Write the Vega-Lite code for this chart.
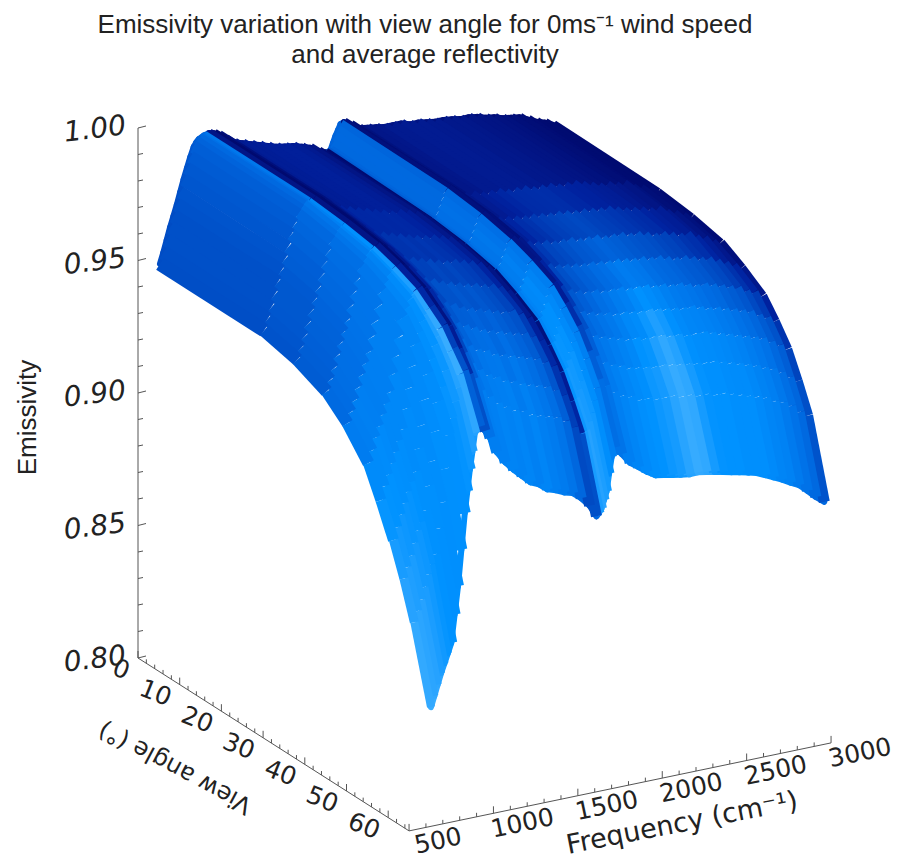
{"$schema":"https://vega.github.io/schema/vega-lite/v6.json","autosize":{"type":"none"},"padding":{"left":0,"right":0,"top":70,"bottom":0},"width":902,"height":791,"background":"white",
"title":{"text":["Emissivity variation with view angle for 0ms⁻¹ wind speed","and average reflectivity"],"font":"Liberation Sans","fontSize":26,"fontWeight":"normal","color":"#222","anchor":"middle","frame":"group","dx":-26,"offset":2,"lineHeight":30},
"config":{"view":{"stroke":null}},
"datasets":{"surface":[
{"f":630,"a":0,"e":0.947,"c":0.38},{"f":630,"a":25,"e":0.947,"c":0.4},{"f":630,"a":33,"e":0.944,"c":0.44},{"f":630,"a":40,"e":0.939,"c":0.5},{"f":630,"a":45,"e":0.932,"c":0.61},{"f":630,"a":50,"e":0.922,"c":0.72},{"f":630,"a":53,"e":0.911,"c":0.79},{"f":630,"a":56,"e":0.899,"c":0.85},{"f":630,"a":58.5,"e":0.887,"c":0.9},{"f":630,"a":61,"e":0.873,"c":0.95},{"f":630,"a":65,"e":0.845,"c":1},
{"f":650,"a":0,"e":0.951,"c":0.38},{"f":650,"a":25,"e":0.951,"c":0.41},{"f":650,"a":33,"e":0.948,"c":0.45},{"f":650,"a":40,"e":0.943,"c":0.51},{"f":650,"a":45,"e":0.936,"c":0.62},{"f":650,"a":50,"e":0.9265,"c":0.73},{"f":650,"a":53,"e":0.916,"c":0.78},{"f":650,"a":56,"e":0.9035,"c":0.83},{"f":650,"a":58.5,"e":0.891,"c":0.88},{"f":650,"a":61,"e":0.877,"c":0.92},{"f":650,"a":65,"e":0.849,"c":0.97},
{"f":670,"a":0,"e":0.9555,"c":0.38},{"f":670,"a":25,"e":0.955,"c":0.42},{"f":670,"a":33,"e":0.952,"c":0.46},{"f":670,"a":40,"e":0.947,"c":0.52},{"f":670,"a":45,"e":0.94,"c":0.63},{"f":670,"a":50,"e":0.931,"c":0.74},{"f":670,"a":53,"e":0.92,"c":0.78},{"f":670,"a":56,"e":0.908,"c":0.82},{"f":670,"a":58.5,"e":0.895,"c":0.86},{"f":670,"a":61,"e":0.881,"c":0.9},{"f":670,"a":65,"e":0.853,"c":0.95},
{"f":690,"a":0,"e":0.96,"c":0.38},{"f":690,"a":25,"e":0.9595,"c":0.42},{"f":690,"a":33,"e":0.9565,"c":0.47},{"f":690,"a":40,"e":0.9515,"c":0.53},{"f":690,"a":45,"e":0.9445,"c":0.63},{"f":690,"a":50,"e":0.935,"c":0.73},{"f":690,"a":53,"e":0.924,"c":0.77},{"f":690,"a":56,"e":0.912,"c":0.81},{"f":690,"a":58.5,"e":0.8995,"c":0.84},{"f":690,"a":61,"e":0.8855,"c":0.87},{"f":690,"a":65,"e":0.857,"c":0.9},
{"f":710,"a":0,"e":0.964,"c":0.38},{"f":710,"a":25,"e":0.964,"c":0.42},{"f":710,"a":33,"e":0.961,"c":0.47},{"f":710,"a":40,"e":0.956,"c":0.54},{"f":710,"a":45,"e":0.949,"c":0.63},{"f":710,"a":50,"e":0.939,"c":0.72},{"f":710,"a":53,"e":0.928,"c":0.76},{"f":710,"a":56,"e":0.916,"c":0.8},{"f":710,"a":58.5,"e":0.904,"c":0.83},{"f":710,"a":61,"e":0.89,"c":0.85},{"f":710,"a":65,"e":0.8605,"c":0.85},
{"f":730,"a":0,"e":0.968,"c":0.39},{"f":730,"a":25,"e":0.968,"c":0.43},{"f":730,"a":33,"e":0.965,"c":0.48},{"f":730,"a":40,"e":0.96,"c":0.55},{"f":730,"a":45,"e":0.953,"c":0.64},{"f":730,"a":50,"e":0.943,"c":0.72},{"f":730,"a":53,"e":0.932,"c":0.76},{"f":730,"a":56,"e":0.9195,"c":0.79},{"f":730,"a":58.5,"e":0.907,"c":0.81},{"f":730,"a":61,"e":0.8935,"c":0.82},{"f":730,"a":65,"e":0.864,"c":0.82},
{"f":750,"a":0,"e":0.9725,"c":0.4},{"f":750,"a":25,"e":0.972,"c":0.45},{"f":750,"a":33,"e":0.969,"c":0.5},{"f":750,"a":40,"e":0.964,"c":0.56},{"f":750,"a":45,"e":0.957,"c":0.64},{"f":750,"a":50,"e":0.947,"c":0.72},{"f":750,"a":53,"e":0.936,"c":0.75},{"f":750,"a":56,"e":0.923,"c":0.78},{"f":750,"a":58.5,"e":0.911,"c":0.79},{"f":750,"a":61,"e":0.897,"c":0.8},{"f":750,"a":65,"e":0.8676,"c":0.8},
{"f":770,"a":0,"e":0.977,"c":0.41},{"f":770,"a":25,"e":0.9765,"c":0.46},{"f":770,"a":33,"e":0.9735,"c":0.51},{"f":770,"a":40,"e":0.969,"c":0.57},{"f":770,"a":45,"e":0.9625,"c":0.65},{"f":770,"a":50,"e":0.9535,"c":0.72},{"f":770,"a":53,"e":0.9435,"c":0.75},{"f":770,"a":56,"e":0.9315,"c":0.77},{"f":770,"a":58.5,"e":0.92,"c":0.78},{"f":770,"a":61,"e":0.9065,"c":0.79},{"f":770,"a":65,"e":0.878,"c":0.79},
{"f":790,"a":0,"e":0.981,"c":0.42},{"f":790,"a":25,"e":0.981,"c":0.48},{"f":790,"a":33,"e":0.978,"c":0.53},{"f":790,"a":40,"e":0.974,"c":0.58},{"f":790,"a":45,"e":0.968,"c":0.65},{"f":790,"a":50,"e":0.96,"c":0.72},{"f":790,"a":53,"e":0.951,"c":0.74},{"f":790,"a":56,"e":0.94,"c":0.76},{"f":790,"a":58.5,"e":0.929,"c":0.77},{"f":790,"a":61,"e":0.916,"c":0.78},{"f":790,"a":65,"e":0.8885,"c":0.78},
{"f":810,"a":0,"e":0.985,"c":0.43},{"f":810,"a":25,"e":0.9845,"c":0.5},{"f":810,"a":33,"e":0.982,"c":0.55},{"f":810,"a":40,"e":0.9785,"c":0.59},{"f":810,"a":45,"e":0.9735,"c":0.65},{"f":810,"a":50,"e":0.967,"c":0.72},{"f":810,"a":53,"e":0.959,"c":0.74},{"f":810,"a":56,"e":0.9495,"c":0.76},{"f":810,"a":58.5,"e":0.94,"c":0.78},{"f":810,"a":61,"e":0.9285,"c":0.79},{"f":810,"a":65,"e":0.902,"c":0.78},
{"f":830,"a":0,"e":0.9885,"c":0.45},{"f":830,"a":25,"e":0.988,"c":0.52},{"f":830,"a":33,"e":0.986,"c":0.56},{"f":830,"a":40,"e":0.983,"c":0.6},{"f":830,"a":45,"e":0.979,"c":0.66},{"f":830,"a":50,"e":0.974,"c":0.72},{"f":830,"a":53,"e":0.967,"c":0.74},{"f":830,"a":56,"e":0.959,"c":0.76},{"f":830,"a":58.5,"e":0.951,"c":0.78},{"f":830,"a":61,"e":0.941,"c":0.8},{"f":830,"a":65,"e":0.9155,"c":0.78},
{"f":845,"a":0,"e":0.99,"c":0.47},{"f":845,"a":25,"e":0.9895,"c":0.56},{"f":845,"a":33,"e":0.9875,"c":0.6},{"f":845,"a":40,"e":0.985,"c":0.64},{"f":845,"a":45,"e":0.9815,"c":0.7},{"f":845,"a":50,"e":0.977,"c":0.75},{"f":845,"a":53,"e":0.971,"c":0.77},{"f":845,"a":56,"e":0.964,"c":0.79},{"f":845,"a":58.5,"e":0.956,"c":0.81},{"f":845,"a":61,"e":0.947,"c":0.82},{"f":845,"a":65,"e":0.9235,"c":0.8},
{"f":860,"a":0,"e":0.991,"c":0.5},{"f":860,"a":25,"e":0.991,"c":0.6},{"f":860,"a":33,"e":0.989,"c":0.64},{"f":860,"a":40,"e":0.987,"c":0.68},{"f":860,"a":45,"e":0.984,"c":0.73},{"f":860,"a":50,"e":0.98,"c":0.78},{"f":860,"a":53,"e":0.975,"c":0.8},{"f":860,"a":56,"e":0.969,"c":0.82},{"f":860,"a":58.5,"e":0.962,"c":0.84},{"f":860,"a":61,"e":0.953,"c":0.85},{"f":860,"a":65,"e":0.9315,"c":0.82},
{"f":875,"a":0,"e":0.9915,"c":0.52},{"f":875,"a":25,"e":0.9915,"c":0.66},{"f":875,"a":33,"e":0.99,"c":0.7},{"f":875,"a":40,"e":0.988,"c":0.75},{"f":875,"a":45,"e":0.985,"c":0.8},{"f":875,"a":50,"e":0.9815,"c":0.85},{"f":875,"a":53,"e":0.977,"c":0.88},{"f":875,"a":56,"e":0.972,"c":0.91},{"f":875,"a":58.5,"e":0.9655,"c":0.92},{"f":875,"a":61,"e":0.958,"c":0.92},{"f":875,"a":65,"e":0.938,"c":0.87},
{"f":890,"a":0,"e":0.992,"c":0.55},{"f":890,"a":25,"e":0.992,"c":0.72},{"f":890,"a":33,"e":0.9908,"c":0.76},{"f":890,"a":40,"e":0.989,"c":0.82},{"f":890,"a":45,"e":0.9865,"c":0.87},{"f":890,"a":50,"e":0.983,"c":0.92},{"f":890,"a":53,"e":0.979,"c":0.96},{"f":890,"a":56,"e":0.975,"c":1},{"f":890,"a":58.5,"e":0.969,"c":1},{"f":890,"a":61,"e":0.963,"c":1},{"f":890,"a":65,"e":0.945,"c":0.92},
{"f":920,"a":0,"e":0.9925,"c":0.1},{"f":920,"a":25,"e":0.9925,"c":0.08},{"f":920,"a":33,"e":0.9915,"c":0.09},{"f":920,"a":40,"e":0.99,"c":0.1},{"f":920,"a":45,"e":0.9875,"c":0.15},{"f":920,"a":50,"e":0.984,"c":0.2},{"f":920,"a":53,"e":0.98,"c":0.25},{"f":920,"a":56,"e":0.976,"c":0.3},{"f":920,"a":58.5,"e":0.97,"c":0.37},{"f":920,"a":61,"e":0.964,"c":0.45},{"f":920,"a":65,"e":0.947,"c":0.55},
{"f":950,"a":0,"e":0.992,"c":0},{"f":950,"a":25,"e":0.992,"c":0},{"f":950,"a":33,"e":0.991,"c":0},{"f":950,"a":40,"e":0.989,"c":0},{"f":950,"a":45,"e":0.9865,"c":0.02},{"f":950,"a":50,"e":0.983,"c":0.05},{"f":950,"a":53,"e":0.979,"c":0.07},{"f":950,"a":56,"e":0.975,"c":0.1},{"f":950,"a":58.5,"e":0.969,"c":0.2},{"f":950,"a":61,"e":0.962,"c":0.3},{"f":950,"a":65,"e":0.945,"c":0.5},
{"f":980,"a":0,"e":0.991,"c":0.05},{"f":980,"a":25,"e":0.991,"c":0.05},{"f":980,"a":33,"e":0.9897,"c":0.06},{"f":980,"a":40,"e":0.988,"c":0.08},{"f":980,"a":45,"e":0.9855,"c":0.14},{"f":980,"a":50,"e":0.982,"c":0.2},{"f":980,"a":53,"e":0.978,"c":0.25},{"f":980,"a":56,"e":0.973,"c":0.3},{"f":980,"a":58.5,"e":0.967,"c":0.42},{"f":980,"a":61,"e":0.96,"c":0.55},{"f":980,"a":65,"e":0.942,"c":0.65},
{"f":1020,"a":0,"e":0.989,"c":0.08},{"f":1020,"a":25,"e":0.989,"c":0.12},{"f":1020,"a":33,"e":0.9878,"c":0.14},{"f":1020,"a":40,"e":0.986,"c":0.18},{"f":1020,"a":45,"e":0.983,"c":0.25},{"f":1020,"a":50,"e":0.979,"c":0.32},{"f":1020,"a":53,"e":0.9745,"c":0.41},{"f":1020,"a":56,"e":0.969,"c":0.5},{"f":1020,"a":58.5,"e":0.9625,"c":0.58},{"f":1020,"a":61,"e":0.955,"c":0.65},{"f":1020,"a":65,"e":0.936,"c":0.7},
{"f":1070,"a":0,"e":0.987,"c":0.1},{"f":1070,"a":25,"e":0.987,"c":0.18},{"f":1070,"a":33,"e":0.9855,"c":0.21},{"f":1070,"a":40,"e":0.983,"c":0.25},{"f":1070,"a":45,"e":0.98,"c":0.32},{"f":1070,"a":50,"e":0.976,"c":0.4},{"f":1070,"a":53,"e":0.9715,"c":0.47},{"f":1070,"a":56,"e":0.966,"c":0.55},{"f":1070,"a":58.5,"e":0.9595,"c":0.62},{"f":1070,"a":61,"e":0.952,"c":0.68},{"f":1070,"a":65,"e":0.9315,"c":0.7},
{"f":1120,"a":0,"e":0.986,"c":0.12},{"f":1120,"a":25,"e":0.986,"c":0.2},{"f":1120,"a":33,"e":0.9845,"c":0.24},{"f":1120,"a":40,"e":0.982,"c":0.3},{"f":1120,"a":45,"e":0.979,"c":0.37},{"f":1120,"a":50,"e":0.975,"c":0.45},{"f":1120,"a":53,"e":0.97,"c":0.52},{"f":1120,"a":56,"e":0.964,"c":0.6},{"f":1120,"a":58.5,"e":0.957,"c":0.65},{"f":1120,"a":61,"e":0.949,"c":0.7},{"f":1120,"a":65,"e":0.928,"c":0.72},
{"f":1170,"a":0,"e":0.985,"c":0.12},{"f":1170,"a":25,"e":0.985,"c":0.2},{"f":1170,"a":33,"e":0.9835,"c":0.24},{"f":1170,"a":40,"e":0.981,"c":0.3},{"f":1170,"a":45,"e":0.9775,"c":0.37},{"f":1170,"a":50,"e":0.973,"c":0.45},{"f":1170,"a":53,"e":0.9685,"c":0.53},{"f":1170,"a":56,"e":0.963,"c":0.62},{"f":1170,"a":58.5,"e":0.9555,"c":0.66},{"f":1170,"a":61,"e":0.947,"c":0.7},{"f":1170,"a":65,"e":0.925,"c":0.7},
{"f":1220,"a":0,"e":0.984,"c":0.14},{"f":1220,"a":25,"e":0.984,"c":0.2},{"f":1220,"a":33,"e":0.9825,"c":0.25},{"f":1220,"a":40,"e":0.98,"c":0.32},{"f":1220,"a":45,"e":0.9765,"c":0.4},{"f":1220,"a":50,"e":0.972,"c":0.48},{"f":1220,"a":53,"e":0.967,"c":0.55},{"f":1220,"a":56,"e":0.961,"c":0.62},{"f":1220,"a":58.5,"e":0.9535,"c":0.67},{"f":1220,"a":61,"e":0.945,"c":0.72},{"f":1220,"a":65,"e":0.922,"c":0.72},
{"f":1270,"a":0,"e":0.983,"c":0.14},{"f":1270,"a":25,"e":0.983,"c":0.2},{"f":1270,"a":33,"e":0.9815,"c":0.24},{"f":1270,"a":40,"e":0.979,"c":0.3},{"f":1270,"a":45,"e":0.9755,"c":0.38},{"f":1270,"a":50,"e":0.971,"c":0.46},{"f":1270,"a":53,"e":0.966,"c":0.52},{"f":1270,"a":56,"e":0.96,"c":0.58},{"f":1270,"a":58.5,"e":0.9525,"c":0.63},{"f":1270,"a":61,"e":0.944,"c":0.68},{"f":1270,"a":65,"e":0.9205,"c":0.7},
{"f":1320,"a":0,"e":0.982,"c":0.15},{"f":1320,"a":25,"e":0.982,"c":0.2},{"f":1320,"a":33,"e":0.9805,"c":0.25},{"f":1320,"a":40,"e":0.978,"c":0.32},{"f":1320,"a":45,"e":0.9745,"c":0.4},{"f":1320,"a":50,"e":0.97,"c":0.48},{"f":1320,"a":53,"e":0.965,"c":0.55},{"f":1320,"a":56,"e":0.959,"c":0.62},{"f":1320,"a":58.5,"e":0.951,"c":0.67},{"f":1320,"a":61,"e":0.942,"c":0.72},{"f":1320,"a":65,"e":0.918,"c":0.72},
{"f":1370,"a":0,"e":0.9815,"c":0.15},{"f":1370,"a":25,"e":0.981,"c":0.2},{"f":1370,"a":33,"e":0.9798,"c":0.24},{"f":1370,"a":40,"e":0.978,"c":0.3},{"f":1370,"a":45,"e":0.974,"c":0.37},{"f":1370,"a":50,"e":0.969,"c":0.45},{"f":1370,"a":53,"e":0.964,"c":0.51},{"f":1370,"a":56,"e":0.958,"c":0.58},{"f":1370,"a":58.5,"e":0.95,"c":0.63},{"f":1370,"a":61,"e":0.941,"c":0.68},{"f":1370,"a":65,"e":0.917,"c":0.68},
{"f":1420,"a":0,"e":0.981,"c":0.14},{"f":1420,"a":25,"e":0.981,"c":0.18},{"f":1420,"a":33,"e":0.9795,"c":0.22},{"f":1420,"a":40,"e":0.977,"c":0.28},{"f":1420,"a":45,"e":0.973,"c":0.35},{"f":1420,"a":50,"e":0.968,"c":0.42},{"f":1420,"a":53,"e":0.963,"c":0.48},{"f":1420,"a":56,"e":0.957,"c":0.55},{"f":1420,"a":58.5,"e":0.949,"c":0.6},{"f":1420,"a":61,"e":0.94,"c":0.65},{"f":1420,"a":65,"e":0.9155,"c":0.66},
{"f":1470,"a":0,"e":0.98,"c":0.12},{"f":1470,"a":25,"e":0.98,"c":0.15},{"f":1470,"a":33,"e":0.9785,"c":0.19},{"f":1470,"a":40,"e":0.976,"c":0.25},{"f":1470,"a":45,"e":0.9725,"c":0.31},{"f":1470,"a":50,"e":0.968,"c":0.38},{"f":1470,"a":53,"e":0.9625,"c":0.44},{"f":1470,"a":56,"e":0.956,"c":0.5},{"f":1470,"a":58.5,"e":0.948,"c":0.55},{"f":1470,"a":61,"e":0.939,"c":0.6},{"f":1470,"a":65,"e":0.9146,"c":0.62},
{"f":1520,"a":0,"e":0.979,"c":0.08},{"f":1520,"a":25,"e":0.979,"c":0.1},{"f":1520,"a":33,"e":0.9775,"c":0.13},{"f":1520,"a":40,"e":0.975,"c":0.18},{"f":1520,"a":45,"e":0.971,"c":0.23},{"f":1520,"a":50,"e":0.966,"c":0.28},{"f":1520,"a":53,"e":0.9605,"c":0.34},{"f":1520,"a":56,"e":0.954,"c":0.4},{"f":1520,"a":58.5,"e":0.946,"c":0.46},{"f":1520,"a":61,"e":0.937,"c":0.52},{"f":1520,"a":65,"e":0.912,"c":0.55},
{"f":1570,"a":0,"e":0.977,"c":0.03},{"f":1570,"a":25,"e":0.977,"c":0.04},{"f":1570,"a":33,"e":0.9755,"c":0.06},{"f":1570,"a":40,"e":0.973,"c":0.08},{"f":1570,"a":45,"e":0.969,"c":0.11},{"f":1570,"a":50,"e":0.964,"c":0.15},{"f":1570,"a":53,"e":0.9585,"c":0.2},{"f":1570,"a":56,"e":0.952,"c":0.25},{"f":1570,"a":58.5,"e":0.9435,"c":0.3},{"f":1570,"a":61,"e":0.934,"c":0.35},{"f":1570,"a":65,"e":0.9085,"c":0.4},
{"f":1610,"a":0,"e":0.976,"c":0},{"f":1610,"a":25,"e":0.975,"c":0},{"f":1610,"a":33,"e":0.9735,"c":0.01},{"f":1610,"a":40,"e":0.971,"c":0.02},{"f":1610,"a":45,"e":0.967,"c":0.03},{"f":1610,"a":50,"e":0.962,"c":0.05},{"f":1610,"a":53,"e":0.956,"c":0.08},{"f":1610,"a":56,"e":0.949,"c":0.12},{"f":1610,"a":58.5,"e":0.9405,"c":0.18},{"f":1610,"a":61,"e":0.931,"c":0.25},{"f":1610,"a":65,"e":0.904,"c":0.55},
{"f":1625,"a":0,"e":0.976,"c":0.45},{"f":1625,"a":25,"e":0.975,"c":0.5},{"f":1625,"a":33,"e":0.9735,"c":0.53},{"f":1625,"a":40,"e":0.971,"c":0.58},{"f":1625,"a":45,"e":0.9675,"c":0.64},{"f":1625,"a":50,"e":0.9625,"c":0.7},{"f":1625,"a":53,"e":0.9565,"c":0.75},{"f":1625,"a":56,"e":0.9495,"c":0.8},{"f":1625,"a":58.5,"e":0.941,"c":0.83},{"f":1625,"a":61,"e":0.9315,"c":0.85},{"f":1625,"a":65,"e":0.905,"c":0.9},
{"f":1640,"a":0,"e":0.9765,"c":0.5},{"f":1640,"a":25,"e":0.975,"c":0.55},{"f":1640,"a":33,"e":0.9735,"c":0.58},{"f":1640,"a":40,"e":0.971,"c":0.62},{"f":1640,"a":45,"e":0.9675,"c":0.68},{"f":1640,"a":50,"e":0.963,"c":0.75},{"f":1640,"a":53,"e":0.957,"c":0.8},{"f":1640,"a":56,"e":0.95,"c":0.85},{"f":1640,"a":58.5,"e":0.9415,"c":0.88},{"f":1640,"a":61,"e":0.932,"c":0.9},{"f":1640,"a":65,"e":0.9065,"c":0.95},
{"f":1655,"a":0,"e":0.979,"c":0.52},{"f":1655,"a":25,"e":0.9775,"c":0.57},{"f":1655,"a":33,"e":0.976,"c":0.6},{"f":1655,"a":40,"e":0.9735,"c":0.64},{"f":1655,"a":45,"e":0.97,"c":0.7},{"f":1655,"a":50,"e":0.9655,"c":0.77},{"f":1655,"a":53,"e":0.9595,"c":0.8},{"f":1655,"a":56,"e":0.953,"c":0.84},{"f":1655,"a":58.5,"e":0.9445,"c":0.86},{"f":1655,"a":61,"e":0.935,"c":0.88},{"f":1655,"a":65,"e":0.9095,"c":0.9},
{"f":1670,"a":0,"e":0.9815,"c":0.52},{"f":1670,"a":25,"e":0.98,"c":0.58},{"f":1670,"a":33,"e":0.9785,"c":0.61},{"f":1670,"a":40,"e":0.976,"c":0.66},{"f":1670,"a":45,"e":0.9725,"c":0.72},{"f":1670,"a":50,"e":0.968,"c":0.78},{"f":1670,"a":53,"e":0.9625,"c":0.8},{"f":1670,"a":56,"e":0.956,"c":0.82},{"f":1670,"a":58.5,"e":0.9475,"c":0.84},{"f":1670,"a":61,"e":0.938,"c":0.85},{"f":1670,"a":65,"e":0.9125,"c":0.85},
{"f":1685,"a":0,"e":0.9835,"c":0.52},{"f":1685,"a":25,"e":0.9825,"c":0.57},{"f":1685,"a":33,"e":0.981,"c":0.6},{"f":1685,"a":40,"e":0.9785,"c":0.63},{"f":1685,"a":45,"e":0.975,"c":0.68},{"f":1685,"a":50,"e":0.971,"c":0.74},{"f":1685,"a":53,"e":0.9655,"c":0.75},{"f":1685,"a":56,"e":0.9595,"c":0.75},{"f":1685,"a":58.5,"e":0.9515,"c":0.77},{"f":1685,"a":61,"e":0.9425,"c":0.78},{"f":1685,"a":65,"e":0.919,"c":0.77},
{"f":1700,"a":0,"e":0.9855,"c":0.5},{"f":1700,"a":25,"e":0.985,"c":0.55},{"f":1700,"a":33,"e":0.9835,"c":0.57},{"f":1700,"a":40,"e":0.981,"c":0.6},{"f":1700,"a":45,"e":0.978,"c":0.65},{"f":1700,"a":50,"e":0.974,"c":0.7},{"f":1700,"a":53,"e":0.969,"c":0.69},{"f":1700,"a":56,"e":0.963,"c":0.68},{"f":1700,"a":58.5,"e":0.9555,"c":0.69},{"f":1700,"a":61,"e":0.947,"c":0.7},{"f":1700,"a":65,"e":0.925,"c":0.68},
{"f":1720,"a":0,"e":0.986,"c":0.05},{"f":1720,"a":25,"e":0.986,"c":0.05},{"f":1720,"a":33,"e":0.9845,"c":0.06},{"f":1720,"a":40,"e":0.982,"c":0.08},{"f":1720,"a":45,"e":0.979,"c":0.1},{"f":1720,"a":50,"e":0.975,"c":0.12},{"f":1720,"a":53,"e":0.9705,"c":0.2},{"f":1720,"a":56,"e":0.965,"c":0.3},{"f":1720,"a":58.5,"e":0.958,"c":0.43},{"f":1720,"a":61,"e":0.95,"c":0.55},{"f":1720,"a":65,"e":0.9285,"c":0.6},
{"f":1760,"a":0,"e":0.9845,"c":0.02},{"f":1760,"a":25,"e":0.984,"c":0.03},{"f":1760,"a":33,"e":0.983,"c":0.04},{"f":1760,"a":40,"e":0.981,"c":0.06},{"f":1760,"a":45,"e":0.9775,"c":0.15},{"f":1760,"a":50,"e":0.973,"c":0.25},{"f":1760,"a":53,"e":0.9685,"c":0.35},{"f":1760,"a":56,"e":0.963,"c":0.45},{"f":1760,"a":58.5,"e":0.9555,"c":0.53},{"f":1760,"a":61,"e":0.947,"c":0.6},{"f":1760,"a":65,"e":0.9255,"c":0.62},
{"f":1810,"a":0,"e":0.9825,"c":0.05},{"f":1810,"a":25,"e":0.982,"c":0.08},{"f":1810,"a":33,"e":0.981,"c":0.13},{"f":1810,"a":40,"e":0.979,"c":0.2},{"f":1810,"a":45,"e":0.9755,"c":0.3},{"f":1810,"a":50,"e":0.971,"c":0.4},{"f":1810,"a":53,"e":0.966,"c":0.49},{"f":1810,"a":56,"e":0.96,"c":0.58},{"f":1810,"a":58.5,"e":0.9525,"c":0.63},{"f":1810,"a":61,"e":0.944,"c":0.68},{"f":1810,"a":65,"e":0.9215,"c":0.68},
{"f":1860,"a":0,"e":0.982,"c":0.08},{"f":1860,"a":25,"e":0.982,"c":0.12},{"f":1860,"a":33,"e":0.9805,"c":0.17},{"f":1860,"a":40,"e":0.978,"c":0.25},{"f":1860,"a":45,"e":0.9745,"c":0.35},{"f":1860,"a":50,"e":0.97,"c":0.45},{"f":1860,"a":53,"e":0.965,"c":0.53},{"f":1860,"a":56,"e":0.959,"c":0.62},{"f":1860,"a":58.5,"e":0.951,"c":0.67},{"f":1860,"a":61,"e":0.942,"c":0.72},{"f":1860,"a":65,"e":0.9192,"c":0.72},
{"f":1910,"a":0,"e":0.9816,"c":0.08},{"f":1910,"a":25,"e":0.981,"c":0.14},{"f":1910,"a":33,"e":0.98,"c":0.2},{"f":1910,"a":40,"e":0.978,"c":0.3},{"f":1910,"a":45,"e":0.974,"c":0.4},{"f":1910,"a":50,"e":0.969,"c":0.5},{"f":1910,"a":53,"e":0.964,"c":0.57},{"f":1910,"a":56,"e":0.958,"c":0.65},{"f":1910,"a":58.5,"e":0.95,"c":0.7},{"f":1910,"a":61,"e":0.941,"c":0.75},{"f":1910,"a":65,"e":0.9168,"c":0.75},
{"f":1960,"a":0,"e":0.981,"c":0.1},{"f":1960,"a":25,"e":0.981,"c":0.16},{"f":1960,"a":33,"e":0.9795,"c":0.22},{"f":1960,"a":40,"e":0.977,"c":0.32},{"f":1960,"a":45,"e":0.9735,"c":0.43},{"f":1960,"a":50,"e":0.969,"c":0.55},{"f":1960,"a":53,"e":0.9635,"c":0.61},{"f":1960,"a":56,"e":0.957,"c":0.68},{"f":1960,"a":58.5,"e":0.9485,"c":0.73},{"f":1960,"a":61,"e":0.939,"c":0.78},{"f":1960,"a":65,"e":0.9148,"c":0.78},
{"f":2010,"a":0,"e":0.981,"c":0.08},{"f":2010,"a":25,"e":0.981,"c":0.18},{"f":2010,"a":33,"e":0.9795,"c":0.25},{"f":2010,"a":40,"e":0.977,"c":0.35},{"f":2010,"a":45,"e":0.973,"c":0.46},{"f":2010,"a":50,"e":0.968,"c":0.58},{"f":2010,"a":53,"e":0.9625,"c":0.65},{"f":2010,"a":56,"e":0.956,"c":0.72},{"f":2010,"a":58.5,"e":0.948,"c":0.76},{"f":2010,"a":61,"e":0.939,"c":0.8},{"f":2010,"a":65,"e":0.9142,"c":0.8},
{"f":2060,"a":0,"e":0.981,"c":0.08},{"f":2060,"a":25,"e":0.98,"c":0.2},{"f":2060,"a":33,"e":0.979,"c":0.27},{"f":2060,"a":40,"e":0.977,"c":0.38},{"f":2060,"a":45,"e":0.973,"c":0.5},{"f":2060,"a":50,"e":0.968,"c":0.62},{"f":2060,"a":53,"e":0.9625,"c":0.7},{"f":2060,"a":56,"e":0.956,"c":0.78},{"f":2060,"a":58.5,"e":0.9475,"c":0.82},{"f":2060,"a":61,"e":0.938,"c":0.85},{"f":2060,"a":65,"e":0.9136,"c":0.82},
{"f":2110,"a":0,"e":0.98,"c":0.08},{"f":2110,"a":25,"e":0.98,"c":0.2},{"f":2110,"a":33,"e":0.9785,"c":0.28},{"f":2110,"a":40,"e":0.976,"c":0.4},{"f":2110,"a":45,"e":0.9725,"c":0.52},{"f":2110,"a":50,"e":0.968,"c":0.65},{"f":2110,"a":53,"e":0.962,"c":0.73},{"f":2110,"a":56,"e":0.955,"c":0.8},{"f":2110,"a":58.5,"e":0.947,"c":0.84},{"f":2110,"a":61,"e":0.938,"c":0.88},{"f":2110,"a":65,"e":0.913,"c":0.85},
{"f":2160,"a":0,"e":0.98,"c":0.08},{"f":2160,"a":25,"e":0.98,"c":0.2},{"f":2160,"a":33,"e":0.9785,"c":0.29},{"f":2160,"a":40,"e":0.976,"c":0.42},{"f":2160,"a":45,"e":0.972,"c":0.56},{"f":2160,"a":50,"e":0.967,"c":0.7},{"f":2160,"a":53,"e":0.9615,"c":0.79},{"f":2160,"a":56,"e":0.955,"c":0.88},{"f":2160,"a":58.5,"e":0.947,"c":0.92},{"f":2160,"a":61,"e":0.938,"c":0.95},{"f":2160,"a":65,"e":0.9125,"c":0.92},
{"f":2210,"a":0,"e":0.9795,"c":0.06},{"f":2210,"a":25,"e":0.979,"c":0.2},{"f":2210,"a":33,"e":0.978,"c":0.3},{"f":2210,"a":40,"e":0.976,"c":0.44},{"f":2210,"a":45,"e":0.972,"c":0.59},{"f":2210,"a":50,"e":0.967,"c":0.74},{"f":2210,"a":53,"e":0.9615,"c":0.85},{"f":2210,"a":56,"e":0.955,"c":0.95},{"f":2210,"a":58.5,"e":0.9465,"c":0.98},{"f":2210,"a":61,"e":0.937,"c":1},{"f":2210,"a":65,"e":0.9126,"c":0.98},
{"f":2260,"a":0,"e":0.979,"c":0.06},{"f":2260,"a":25,"e":0.979,"c":0.2},{"f":2260,"a":33,"e":0.9775,"c":0.29},{"f":2260,"a":40,"e":0.975,"c":0.42},{"f":2260,"a":45,"e":0.9715,"c":0.57},{"f":2260,"a":50,"e":0.967,"c":0.72},{"f":2260,"a":53,"e":0.961,"c":0.81},{"f":2260,"a":56,"e":0.954,"c":0.9},{"f":2260,"a":58.5,"e":0.946,"c":0.94},{"f":2260,"a":61,"e":0.937,"c":0.98},{"f":2260,"a":65,"e":0.9121,"c":0.95},
{"f":2310,"a":0,"e":0.979,"c":0.05},{"f":2310,"a":25,"e":0.979,"c":0.18},{"f":2310,"a":33,"e":0.9775,"c":0.27},{"f":2310,"a":40,"e":0.975,"c":0.4},{"f":2310,"a":45,"e":0.971,"c":0.55},{"f":2310,"a":50,"e":0.966,"c":0.7},{"f":2310,"a":53,"e":0.9605,"c":0.76},{"f":2310,"a":56,"e":0.954,"c":0.82},{"f":2310,"a":58.5,"e":0.9455,"c":0.85},{"f":2310,"a":61,"e":0.936,"c":0.88},{"f":2310,"a":65,"e":0.9114,"c":0.85},
{"f":2360,"a":0,"e":0.9786,"c":0.05},{"f":2360,"a":25,"e":0.978,"c":0.18},{"f":2360,"a":33,"e":0.977,"c":0.26},{"f":2360,"a":40,"e":0.975,"c":0.38},{"f":2360,"a":45,"e":0.971,"c":0.51},{"f":2360,"a":50,"e":0.966,"c":0.65},{"f":2360,"a":53,"e":0.96,"c":0.72},{"f":2360,"a":56,"e":0.953,"c":0.78},{"f":2360,"a":58.5,"e":0.945,"c":0.8},{"f":2360,"a":61,"e":0.936,"c":0.82},{"f":2360,"a":65,"e":0.9107,"c":0.8},
{"f":2410,"a":0,"e":0.978,"c":0.05},{"f":2410,"a":25,"e":0.978,"c":0.16},{"f":2410,"a":33,"e":0.9765,"c":0.24},{"f":2410,"a":40,"e":0.974,"c":0.36},{"f":2410,"a":45,"e":0.97,"c":0.49},{"f":2410,"a":50,"e":0.965,"c":0.62},{"f":2410,"a":53,"e":0.9595,"c":0.69},{"f":2410,"a":56,"e":0.953,"c":0.76},{"f":2410,"a":58.5,"e":0.9445,"c":0.78},{"f":2410,"a":61,"e":0.935,"c":0.8},{"f":2410,"a":65,"e":0.91,"c":0.8},
{"f":2460,"a":0,"e":0.978,"c":0.04},{"f":2460,"a":25,"e":0.978,"c":0.15},{"f":2460,"a":33,"e":0.9765,"c":0.23},{"f":2460,"a":40,"e":0.974,"c":0.34},{"f":2460,"a":45,"e":0.97,"c":0.47},{"f":2460,"a":50,"e":0.965,"c":0.6},{"f":2460,"a":53,"e":0.9595,"c":0.68},{"f":2460,"a":56,"e":0.953,"c":0.75},{"f":2460,"a":58.5,"e":0.9445,"c":0.78},{"f":2460,"a":61,"e":0.935,"c":0.8},{"f":2460,"a":65,"e":0.9093,"c":0.8},
{"f":2510,"a":0,"e":0.9775,"c":0.03},{"f":2510,"a":25,"e":0.977,"c":0.14},{"f":2510,"a":33,"e":0.9755,"c":0.21},{"f":2510,"a":40,"e":0.973,"c":0.32},{"f":2510,"a":45,"e":0.969,"c":0.45},{"f":2510,"a":50,"e":0.964,"c":0.58},{"f":2510,"a":53,"e":0.9585,"c":0.66},{"f":2510,"a":56,"e":0.952,"c":0.74},{"f":2510,"a":58.5,"e":0.9435,"c":0.76},{"f":2510,"a":61,"e":0.934,"c":0.78},{"f":2510,"a":65,"e":0.9085,"c":0.78},
{"f":2560,"a":0,"e":0.9765,"c":0.03},{"f":2560,"a":25,"e":0.976,"c":0.13},{"f":2560,"a":33,"e":0.9745,"c":0.2},{"f":2560,"a":40,"e":0.972,"c":0.3},{"f":2560,"a":45,"e":0.968,"c":0.42},{"f":2560,"a":50,"e":0.963,"c":0.55},{"f":2560,"a":53,"e":0.9575,"c":0.64},{"f":2560,"a":56,"e":0.951,"c":0.72},{"f":2560,"a":58.5,"e":0.9425,"c":0.75},{"f":2560,"a":61,"e":0.933,"c":0.78},{"f":2560,"a":65,"e":0.9077,"c":0.78},
{"f":2610,"a":0,"e":0.976,"c":0.02},{"f":2610,"a":25,"e":0.975,"c":0.12},{"f":2610,"a":33,"e":0.974,"c":0.19},{"f":2610,"a":40,"e":0.972,"c":0.28},{"f":2610,"a":45,"e":0.968,"c":0.4},{"f":2610,"a":50,"e":0.963,"c":0.52},{"f":2610,"a":53,"e":0.957,"c":0.61},{"f":2610,"a":56,"e":0.95,"c":0.7},{"f":2610,"a":58.5,"e":0.9415,"c":0.74},{"f":2610,"a":61,"e":0.932,"c":0.78},{"f":2610,"a":65,"e":0.9062,"c":0.78},
{"f":2660,"a":0,"e":0.975,"c":0.02},{"f":2660,"a":25,"e":0.975,"c":0.1},{"f":2660,"a":33,"e":0.9735,"c":0.16},{"f":2660,"a":40,"e":0.971,"c":0.25},{"f":2660,"a":45,"e":0.967,"c":0.37},{"f":2660,"a":50,"e":0.962,"c":0.5},{"f":2660,"a":53,"e":0.956,"c":0.59},{"f":2660,"a":56,"e":0.949,"c":0.68},{"f":2660,"a":58.5,"e":0.9405,"c":0.72},{"f":2660,"a":61,"e":0.931,"c":0.75},{"f":2660,"a":65,"e":0.9047,"c":0.75},
{"f":2710,"a":0,"e":0.9745,"c":0.01},{"f":2710,"a":25,"e":0.974,"c":0.08},{"f":2710,"a":33,"e":0.9725,"c":0.14},{"f":2710,"a":40,"e":0.97,"c":0.22},{"f":2710,"a":45,"e":0.966,"c":0.33},{"f":2710,"a":50,"e":0.961,"c":0.45},{"f":2710,"a":53,"e":0.955,"c":0.55},{"f":2710,"a":56,"e":0.948,"c":0.65},{"f":2710,"a":58.5,"e":0.9395,"c":0.69},{"f":2710,"a":61,"e":0.93,"c":0.72},{"f":2710,"a":65,"e":0.9032,"c":0.72},
{"f":2760,"a":0,"e":0.974,"c":0},{"f":2760,"a":25,"e":0.974,"c":0.06},{"f":2760,"a":33,"e":0.9725,"c":0.12},{"f":2760,"a":40,"e":0.97,"c":0.2},{"f":2760,"a":45,"e":0.9655,"c":0.31},{"f":2760,"a":50,"e":0.96,"c":0.42},{"f":2760,"a":53,"e":0.954,"c":0.52},{"f":2760,"a":56,"e":0.947,"c":0.62},{"f":2760,"a":58.5,"e":0.938,"c":0.66},{"f":2760,"a":61,"e":0.928,"c":0.7},{"f":2760,"a":65,"e":0.9014,"c":0.7},
{"f":2810,"a":0,"e":0.9725,"c":0},{"f":2810,"a":25,"e":0.972,"c":0.04},{"f":2810,"a":33,"e":0.9705,"c":0.09},{"f":2810,"a":40,"e":0.968,"c":0.16},{"f":2810,"a":45,"e":0.964,"c":0.26},{"f":2810,"a":50,"e":0.959,"c":0.38},{"f":2810,"a":53,"e":0.953,"c":0.48},{"f":2810,"a":56,"e":0.946,"c":0.58},{"f":2810,"a":58.5,"e":0.937,"c":0.62},{"f":2810,"a":61,"e":0.927,"c":0.65},{"f":2810,"a":65,"e":0.8998,"c":0.65},
{"f":2860,"a":0,"e":0.971,"c":0},{"f":2860,"a":25,"e":0.971,"c":0.02},{"f":2860,"a":33,"e":0.9695,"c":0.06},{"f":2860,"a":40,"e":0.967,"c":0.12},{"f":2860,"a":45,"e":0.9625,"c":0.21},{"f":2860,"a":50,"e":0.957,"c":0.32},{"f":2860,"a":53,"e":0.951,"c":0.42},{"f":2860,"a":56,"e":0.944,"c":0.52},{"f":2860,"a":58.5,"e":0.935,"c":0.56},{"f":2860,"a":61,"e":0.925,"c":0.6},{"f":2860,"a":65,"e":0.897,"c":0.6},
{"f":2910,"a":0,"e":0.97,"c":0},{"f":2910,"a":25,"e":0.97,"c":0.01},{"f":2910,"a":33,"e":0.968,"c":0.04},{"f":2910,"a":40,"e":0.965,"c":0.08},{"f":2910,"a":45,"e":0.961,"c":0.16},{"f":2910,"a":50,"e":0.956,"c":0.26},{"f":2910,"a":53,"e":0.9495,"c":0.36},{"f":2910,"a":56,"e":0.942,"c":0.46},{"f":2910,"a":58.5,"e":0.9325,"c":0.51},{"f":2910,"a":61,"e":0.922,"c":0.55},{"f":2910,"a":65,"e":0.894,"c":0.55},
{"f":2960,"a":0,"e":0.9685,"c":0},{"f":2960,"a":25,"e":0.968,"c":0},{"f":2960,"a":33,"e":0.9665,"c":0.01},{"f":2960,"a":40,"e":0.964,"c":0.03},{"f":2960,"a":45,"e":0.9595,"c":0.08},{"f":2960,"a":50,"e":0.954,"c":0.15},{"f":2960,"a":53,"e":0.9475,"c":0.23},{"f":2960,"a":56,"e":0.94,"c":0.32},{"f":2960,"a":58.5,"e":0.9305,"c":0.37},{"f":2960,"a":61,"e":0.92,"c":0.42},{"f":2960,"a":65,"e":0.8915,"c":0.42}
],
"ticks":[
{"axis":"z","v":0.8,"m":1,"label":"0.80"},{"axis":"z","v":0.81},{"axis":"z","v":0.82},{"axis":"z","v":0.83},{"axis":"z","v":0.84},{"axis":"z","v":0.85,"m":1,"label":"0.85"},{"axis":"z","v":0.86},{"axis":"z","v":0.87},{"axis":"z","v":0.88},{"axis":"z","v":0.89},{"axis":"z","v":0.9,"m":1,"label":"0.90"},{"axis":"z","v":0.91},{"axis":"z","v":0.92},{"axis":"z","v":0.93},{"axis":"z","v":0.94},{"axis":"z","v":0.95,"m":1,"label":"0.95"},{"axis":"z","v":0.96},{"axis":"z","v":0.97},{"axis":"z","v":0.98},{"axis":"z","v":0.99},{"axis":"z","v":1,"m":1,"label":"1.00"},
{"axis":"a","v":0,"m":1,"label":"0"},{"axis":"a","v":2},{"axis":"a","v":4},{"axis":"a","v":6},{"axis":"a","v":8},{"axis":"a","v":10,"m":1,"label":"10"},{"axis":"a","v":12},{"axis":"a","v":14},{"axis":"a","v":16},{"axis":"a","v":18},{"axis":"a","v":20,"m":1,"label":"20"},{"axis":"a","v":22},{"axis":"a","v":24},{"axis":"a","v":26},{"axis":"a","v":28},{"axis":"a","v":30,"m":1,"label":"30"},{"axis":"a","v":32},{"axis":"a","v":34},{"axis":"a","v":36},{"axis":"a","v":38},{"axis":"a","v":40,"m":1,"label":"40"},{"axis":"a","v":42},{"axis":"a","v":44},{"axis":"a","v":46},{"axis":"a","v":48},{"axis":"a","v":50,"m":1,"label":"50"},{"axis":"a","v":52},{"axis":"a","v":54},{"axis":"a","v":56},{"axis":"a","v":58},{"axis":"a","v":60,"m":1,"label":"60"},{"axis":"a","v":62},{"axis":"a","v":64},
{"axis":"f","v":500,"m":1,"label":"500"},{"axis":"f","v":600},{"axis":"f","v":700},{"axis":"f","v":800},{"axis":"f","v":900},{"axis":"f","v":1000,"m":1,"label":"1000"},{"axis":"f","v":1100},{"axis":"f","v":1200},{"axis":"f","v":1300},{"axis":"f","v":1400},{"axis":"f","v":1500,"m":1,"label":"1500"},{"axis":"f","v":1600},{"axis":"f","v":1700},{"axis":"f","v":1800},{"axis":"f","v":1900},{"axis":"f","v":2000,"m":1,"label":"2000"},{"axis":"f","v":2100},{"axis":"f","v":2200},{"axis":"f","v":2300},{"axis":"f","v":2400},{"axis":"f","v":2500,"m":1,"label":"2500"},{"axis":"f","v":2600},{"axis":"f","v":2700},{"axis":"f","v":2800},{"axis":"f","v":2900},{"axis":"f","v":3000,"m":1,"label":"3000"}
]},
"encoding":{"x":{"field":"sx","type":"quantitative","scale":{"domain":[0,902],"nice":false,"zero":false},"axis":null},"y":{"field":"sy","type":"quantitative","scale":{"domain":[861,70],"nice":false,"zero":false},"axis":null}},
"layer":[
{"data":{"name":"surface"},"transform":[
{"filter":"datum.a==0||datum.a==65"},
{"window":[{"op":"lead","field":"e","as":"e2"},{"op":"lead","field":"f","as":"f2"}],"groupby":["a"],"sort":[{"field":"f","order":"ascending"}]},
{"filter":"isValid(datum.f2)"},
{"calculate":"138+0.1688*(datum.f-500)+4.17*datum.a","as":"sx"},
{"calculate":"658-0.0352*(datum.f-500)+2.66*datum.a-2650*(datum.e-0.8)","as":"sy"},
{"calculate":"138+0.1688*(datum.f2-500)+4.17*datum.a","as":"sx2"},
{"calculate":"658-0.0352*(datum.f2-500)+2.66*datum.a-2650*(datum.e2-0.8)","as":"sy2"}],
"mark":{"type":"rule","strokeCap":"round","strokeWidth":6},
"encoding":{"x2":{"field":"sx2"},"y2":{"field":"sy2"},
"color":{"field":"c","type":"quantitative","legend":null,"scale":{"domain":[0,0.2,0.4,0.6,0.8,1],"range":["#000a70","#0022a0","#0050c8","#0072e8","#0092ff","#38acff"]}}}},
{"data":{"name":"surface"},"transform":[
{"window":[{"op":"lead","field":"e","as":"e2"},{"op":"lead","field":"a","as":"a2"},{"op":"lead","field":"c","as":"c2"}],"groupby":["f"],"sort":[{"field":"a","order":"ascending"}]},
{"filter":"isValid(datum.a2)"},
{"calculate":"138+0.1688*(datum.f-500)+4.17*datum.a","as":"sx"},
{"calculate":"658-0.0352*(datum.f-500)+2.66*datum.a-2650*(datum.e-0.8)","as":"sy"},
{"calculate":"138+0.1688*(datum.f-500)+4.17*datum.a2","as":"sx2"},
{"calculate":"658-0.0352*(datum.f-500)+2.66*datum.a2-2650*(datum.e2-0.8)","as":"sy2"},
{"calculate":"(datum.c+datum.c2)/2","as":"shade"},
{"calculate":"-datum.f*100+datum.a","as":"depth"},
{"calculate":"datum.f<750?(datum.a<25?14:datum.a<40?13:datum.a<50?12:datum.a<56?11:datum.a<61?9:8):datum.f<875?(datum.a<40?13:datum.a<61?14:12):(datum.a<40?10:11)","as":"w"}],
"mark":{"type":"rule","strokeCap":"butt"},
"encoding":{"x2":{"field":"sx2"},"y2":{"field":"sy2"},"size":{"field":"w","type":"quantitative","scale":null,"legend":null},
"color":{"field":"shade","type":"quantitative","legend":null,"scale":{"domain":[0,0.2,0.4,0.6,0.8,1],"range":["#000a70","#0022a0","#0050c8","#0072e8","#0092ff","#38acff"]}},
"order":{"field":"depth","type":"quantitative"}}},
{"data":{"values":[{"f":500,"a":0,"e":0.8,"f2":500,"a2":0,"e2":1},{"f":500,"a":0,"e":0.8,"f2":500,"a2":65,"e2":0.8},{"f":500,"a":65,"e":0.8,"f2":3000,"a2":65,"e2":0.8}]},"transform":[
{"calculate":"138+0.1688*(datum.f-500)+4.17*datum.a","as":"sx"},
{"calculate":"658-0.0352*(datum.f-500)+2.66*datum.a-2650*(datum.e-0.8)","as":"sy"},
{"calculate":"138+0.1688*(datum.f2-500)+4.17*datum.a2","as":"sx2"},
{"calculate":"658-0.0352*(datum.f2-500)+2.66*datum.a2-2650*(datum.e2-0.8)","as":"sy2"}],
"mark":{"type":"rule","strokeWidth":1,"color":"#555"},
"encoding":{"x2":{"field":"sx2"},"y2":{"field":"sy2"}}},
{"data":{"name":"ticks"},"transform":[
{"calculate":"datum.axis=='f'?datum.v:500","as":"f0"},
{"calculate":"datum.axis=='a'?datum.v:(datum.axis=='f'?65:0)","as":"a0"},
{"calculate":"datum.axis=='z'?datum.v:0.8","as":"e0"},
{"calculate":"138+0.1688*(datum.f0-500)+4.17*datum.a0","as":"sx"},
{"calculate":"658-0.0352*(datum.f0-500)+2.66*datum.a0-2650*(datum.e0-0.8)","as":"sy"},
{"calculate":"datum.sx+(datum.axis=='z'?(datum.m?8:5):0)","as":"sx2"},
{"calculate":"datum.sy-(datum.axis=='z'?(datum.m?2:1):(datum.m?7:4))","as":"sy2"}],
"mark":{"type":"rule","strokeWidth":1,"color":"#555"},
"encoding":{"x2":{"field":"sx2"},"y2":{"field":"sy2"}}},
{"data":{"name":"ticks"},"transform":[{"filter":"datum.axis=='z'&&datum.label"},
{"calculate":"95","as":"sx"},{"calculate":"660-2650*(datum.v-0.8)","as":"sy"}],
"mark":{"type":"text","font":"DejaVu Sans","fontStyle":"italic","fontSize":28,"angle":353,"align":"center","baseline":"middle","color":"#222"},
"encoding":{"text":{"field":"label"}}},
{"data":{"name":"ticks"},"transform":[{"filter":"datum.axis=='a'&&datum.label"},
{"calculate":"128.5+4.17*datum.v","as":"sx"},{"calculate":"672.5+2.66*datum.v","as":"sy"}],
"mark":{"type":"text","font":"DejaVu Sans","fontSize":25,"angle":22,"align":"right","baseline":"middle","color":"#222"},
"encoding":{"text":{"field":"label"}}},
{"data":{"name":"ticks"},"transform":[{"filter":"datum.axis=='f'&&datum.label"},
{"calculate":"138+0.1688*(datum.v-500)+4.17*65+29","as":"sx"},{"calculate":"658-0.0352*(datum.v-500)+2.66*65+10","as":"sy"}],
"mark":{"type":"text","font":"DejaVu Sans","fontSize":25,"angle":348,"align":"center","baseline":"middle","color":"#222"},
"encoding":{"text":{"field":"label"}}},
{"data":{"values":[{"label":"Emissivity","e":0.89}]},"transform":[{"calculate":"28","as":"sx"},{"calculate":"658-2650*(datum.e-0.8)-2","as":"sy"}],
"mark":{"type":"text","font":"Liberation Sans","fontSize":26,"angle":270,"align":"center","baseline":"middle","color":"#222"},
"encoding":{"text":{"field":"label"}}},
{"data":{"values":[{"a":32,"label":"View angle (°)"}]},"transform":[{"calculate":"138+4.17*datum.a-96","as":"sx"},{"calculate":"658+2.66*datum.a+24","as":"sy"}],
"mark":{"type":"text","font":"DejaVu Sans","fontSize":24,"angle":208,"align":"center","baseline":"middle","color":"#222"},
"encoding":{"text":{"field":"label"}}},
{"data":{"values":[{"f":2100,"label":"Frequency (cm⁻¹)"}]},"transform":[{"calculate":"138+0.1688*(datum.f-500)+4.17*65+3","as":"sx"},{"calculate":"658-0.0352*(datum.f-500)+2.66*65+49","as":"sy"}],
"mark":{"type":"text","font":"DejaVu Sans","fontSize":27,"angle":349,"align":"center","baseline":"middle","color":"#222"},
"encoding":{"text":{"field":"label"}}}
]}
